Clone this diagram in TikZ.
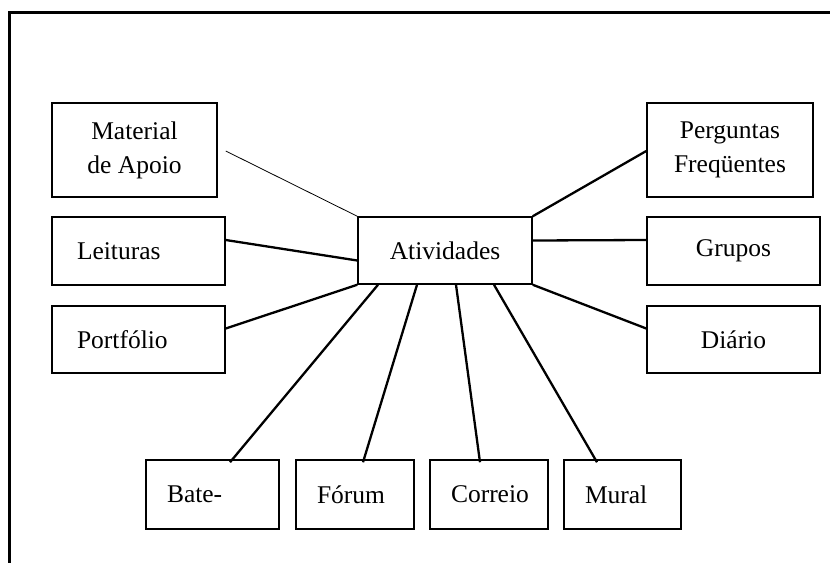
\documentclass[tikz,border=0pt]{standalone}
\usepackage{fontspec}
\setmainfont{Liberation Serif}

\begin{document}
\begin{tikzpicture}[x=1pt,y=-1pt,
        caixa/.style={draw, line width=1.5pt, inner sep=0pt, align=center,
            font=\fontsize{25.5}{34}\selectfont},
        ligacao/.style={line width=2.3pt},
        fina/.style={line width=0.8pt}]
            \useasboundingbox (0,0) rectangle (830,563);
            \draw [line width=3pt] (830,12) -- (9,12) -- (9,563);

            \node [caixa, minimum width=174pt, minimum height=67pt] (ativ) at (445,250.5) {Atividades};

            \node [caixa, minimum width=165pt, minimum height=94pt] (mat) at (134.5,150) {Material\\de Apoio};
            \node [caixa, align=left, inner xsep=25pt, text width=123pt, minimum height=68pt] (leit) at (138.5,251) {Leituras};
            \node [caixa, align=left, inner xsep=25pt, text width=123pt, minimum height=67pt] (port) at (138.5,339.5) {Portfólio};

            \node [caixa, minimum width=166pt, minimum height=94pt] (perg) at (730,150) {Perguntas\\Freqüentes};
            \node [caixa, minimum width=173pt, minimum height=68pt] (grup) at (733.5,251) {Grupos};
            \node [caixa, minimum width=173pt, minimum height=67pt] (diar) at (733.5,339.5) {Diário};

            \node [caixa, align=left, inner xsep=21pt, text width=91pt, minimum height=69pt] (bate) at (212.5,494.5) {Bate-};
            \node [caixa, align=left, inner xsep=21pt, text width=76pt, minimum height=69pt] (forum) at (355,494.5) {Fórum};
            \node [caixa, align=left, inner xsep=21pt, text width=76pt, minimum height=69pt] (corr) at (489,494.5) {Correio};
            \node [caixa, align=left, inner xsep=21pt, text width=75pt, minimum height=69pt] (mural) at (622.5,494.5) {Mural};

            % lado esquerdo
            \draw [fina] ([xshift=8pt,yshift=-1pt]mat.east) -- (ativ.north west);
            \draw [ligacao] ([yshift=11pt]leit.east) -- ([yshift=-10pt]ativ.west);
            \draw [ligacao] ([yshift=11pt]port.east) -- (ativ.south west);

            % lado direito
            \draw [ligacao] (ativ.north east) -- ([yshift=-1pt]perg.west);
            \draw [ligacao] ([yshift=10pt]ativ.east) -- ([yshift=11pt]grup.west);
            \draw [ligacao] (ativ.south east) -- ([yshift=11pt]diar.west);

            % embaixo
            \draw [ligacao] ([xshift=-67pt]ativ.south) -- ([xshift=17.5pt,yshift=-3pt]bate.north);
            \draw [ligacao] ([xshift=-28pt]ativ.south) -- ([xshift=8pt,yshift=-3pt]forum.north);
            \draw [ligacao] ([xshift=11pt]ativ.south) -- ([xshift=-9pt,yshift=-3pt]corr.north);
            \draw [ligacao] ([xshift=49pt]ativ.south) -- ([xshift=-25.5pt,yshift=-3pt]mural.north);
\end{tikzpicture}
\end{document}
